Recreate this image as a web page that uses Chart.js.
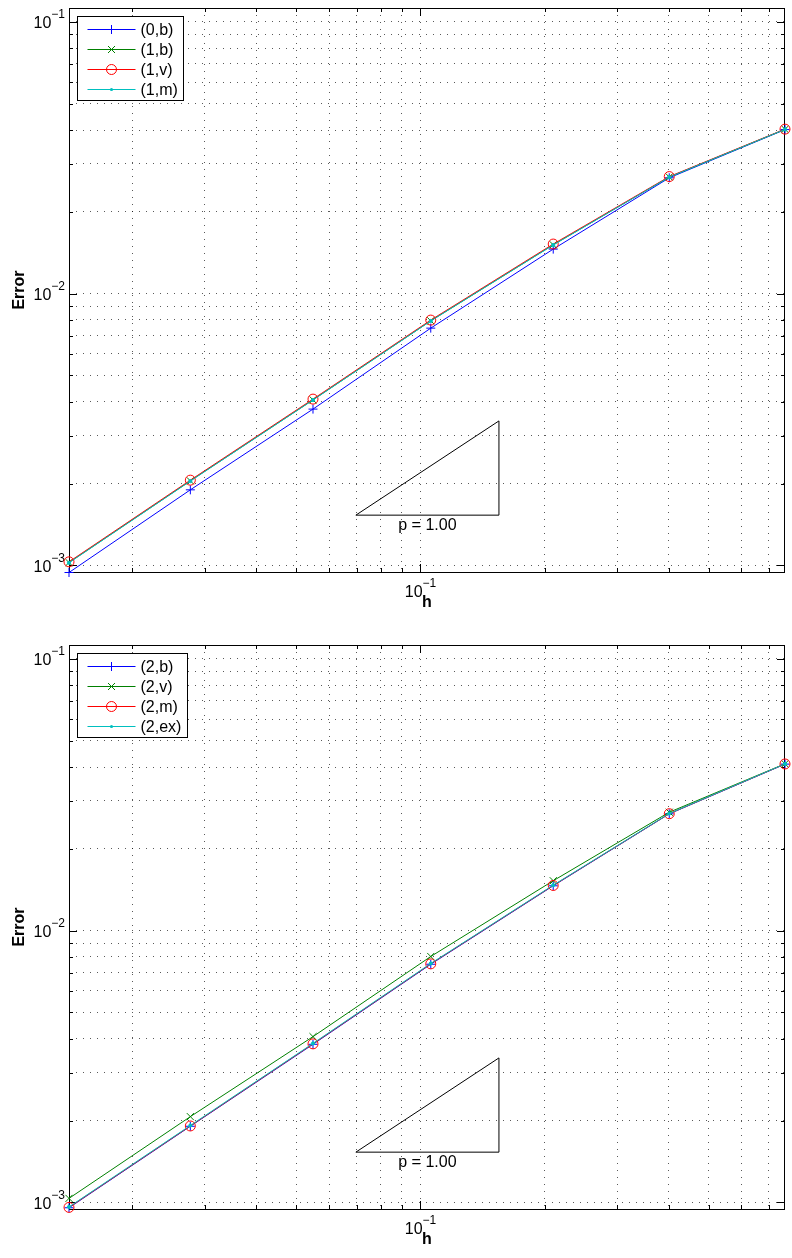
<!DOCTYPE html>
<html>
<head>
<meta charset="utf-8">
<script src="https://cdn.jsdelivr.net/npm/chart.js@4.4.1/dist/chart.umd.min.js"></script>
<style>
  html, body { margin: 0; padding: 0; background: #fff; overflow: hidden; }
  canvas { position: absolute; left: 0; }
  #errTop { top: 0; }
  #errBottom { top: 637px; }
</style>
</head>
<body>
<canvas id="errTop" width="792" height="637"></canvas>
<canvas id="errBottom" width="792" height="621"></canvas>
<script>
// mesh sizes (shared by both panels)
const hValues = [0.01404, 0.02765, 0.05486, 0.1059, 0.2099, 0.4013, 0.766];

// top panel
const topLabels = ['(0,b)', '(1,b)', '(1,v)', '(1,m)'];
const err0b = [0.000941, 0.001896, 0.003758, 0.007464, 0.01458, 0.02668, 0.04015];
const err1b = [0.001024, 0.002046, 0.004064, 0.007941, 0.01512, 0.02686, 0.04024];
const err1v = [0.001030, 0.002058, 0.004090, 0.007990, 0.01522, 0.02696, 0.04030];
const err1m = [0.001022, 0.002042, 0.004058, 0.007930, 0.01510, 0.02684, 0.04022];

// bottom panel
const bottomLabels = ['(2,b)', '(2,v)', '(2,m)', '(2,ex)'];
const err2b  = [0.000955, 0.001905, 0.003815, 0.007520, 0.01462, 0.02690, 0.04100];
const err2v  = [0.001034, 0.002067, 0.004072, 0.008030, 0.01526, 0.02727, 0.04110];
const err2m  = [0.000958, 0.001910, 0.003830, 0.007545, 0.01466, 0.02693, 0.04105];
const err2ex = [0.000962, 0.001918, 0.003845, 0.007570, 0.01470, 0.02697, 0.04108];

// slope triangle
const triX = [0.0697, 0.155, 0.155, 0.0697];
const triY = [0.00153, 0.00153, 0.00340, 0.00153];
const triText = 'p = 1.00';

const yMin = 0.000945, yMax = 0.1125;

const FONT_FAMILY = '"Liberation Sans", Arial, Helvetica, sans-serif';
const FONT = '16px ' + FONT_FAMILY;
const EXP_FONT = '12px ' + FONT_FAMILY;
const BLUE = '#0000ff', GREEN = '#008000', RED = '#ff0000', CYAN = '#00bfbf';

Chart.defaults.color = '#000';
Chart.defaults.font.family = FONT_FAMILY;
Chart.defaults.font.size = 16;

function isDecade(v) {
  const l = Math.log10(v);
  return Math.abs(l - Math.round(l)) < 1e-9;
}

function logTicks(min, max) {
  const out = [];
  for (let e = Math.floor(Math.log10(min)); e <= Math.ceil(Math.log10(max)); e++) {
    for (let k = 1; k < 10; k++) {
      const v = parseFloat((k * Math.pow(10, e)).toPrecision(6));
      if (v >= min * 0.9999 && v <= max * 1.0001) out.push({value: v});
    }
  }
  return out;
}

// "10" with a raised exponent
function drawPower(ctx, v, x, baseline, align) {
  const e = String(Math.round(Math.log10(v))).replace('-', '\u2212');
  ctx.font = FONT;
  const wMain = ctx.measureText('10').width;
  ctx.font = EXP_FONT;
  const wExp = ctx.measureText(e).width;
  const total = wMain + wExp;
  const left = align === 'right' ? x - total : x - total / 2;
  ctx.textAlign = 'left';
  ctx.textBaseline = 'alphabetic';
  ctx.font = FONT;
  ctx.fillText('10', left, baseline);
  ctx.font = EXP_FONT;
  ctx.fillText(e, left + wMain, baseline - 10);
}

function drawMarker(ctx, marker, x, y, color) {
  ctx.strokeStyle = color;
  ctx.fillStyle = color;
  ctx.lineWidth = 1;
  ctx.beginPath();
  if (marker === 'cross') {
    ctx.moveTo(x - 4.5, y); ctx.lineTo(x + 4.5, y);
    ctx.moveTo(x, y - 4.5); ctx.lineTo(x, y + 4.5);
    ctx.stroke();
  } else if (marker === 'x') {
    ctx.moveTo(x - 3.5, y - 3.5); ctx.lineTo(x + 3.5, y + 3.5);
    ctx.moveTo(x - 3.5, y + 3.5); ctx.lineTo(x + 3.5, y - 3.5);
    ctx.stroke();
  } else if (marker === 'o') {
    ctx.arc(x, y, 5, 0, Math.PI * 2);
    ctx.stroke();
  } else {
    ctx.arc(x, y, 1.6, 0, Math.PI * 2);
    ctx.fill();
  }
}

function series(label, vals, color, marker, order) {
  const pt = {
    cross: ['cross', 4.5, color],
    x: ['crossRot', 5, color],
    o: ['circle', 5, 'rgba(0,0,0,0)'],
    dot: ['circle', 1.6, color]
  }[marker];
  return {
    label: label,
    data: hValues.map((h, i) => ({x: h, y: vals[i]})),
    borderColor: color,
    backgroundColor: color,
    borderWidth: 1,
    pointStyle: pt[0],
    pointRadius: pt[1],
    pointBackgroundColor: pt[2],
    pointBorderColor: color,
    pointBorderWidth: 1,
    marker: marker,
    legendColor: color,
    order: order,
    clip: false
  };
}

const framePlugin = {
  id: 'matlabFrame',
  beforeDatasetsDraw(chart) {
    const {ctx, chartArea: a, scales: {x, y}} = chart;
    ctx.save();
    ctx.setLineDash([]);
    ctx.strokeStyle = '#000';
    ctx.lineWidth = 1;
    ctx.beginPath();
    x.ticks.forEach(t => {
      const px = Math.round(x.getPixelForValue(t.value)) + 0.5;
      const len = isDecade(t.value) ? 8 : 4;
      ctx.moveTo(px, a.bottom); ctx.lineTo(px, a.bottom - len);
      ctx.moveTo(px, a.top); ctx.lineTo(px, a.top + len);
    });
    y.ticks.forEach(t => {
      const py = Math.round(y.getPixelForValue(t.value)) + 0.5;
      const len = isDecade(t.value) ? 8 : 4;
      ctx.moveTo(a.left, py); ctx.lineTo(a.left + len, py);
      ctx.moveTo(a.right, py); ctx.lineTo(a.right - len, py);
    });
    ctx.stroke();
    ctx.strokeRect(Math.round(a.left) + 0.5, Math.round(a.top) + 0.5,
      Math.round(a.right - a.left) - 1, Math.round(a.bottom - a.top));

    // decade tick labels
    ctx.fillStyle = '#000';
    x.ticks.filter(t => isDecade(t.value)).forEach(t => {
      drawPower(ctx, t.value, x.getPixelForValue(t.value), a.bottom + 25, 'center');
    });
    y.ticks.filter(t => isDecade(t.value)).forEach(t => {
      drawPower(ctx, t.value, a.left - 4, y.getPixelForValue(t.value) + 6.5, 'right');
    });
    ctx.restore();
  },
  afterDatasetsDraw(chart) {
    const {ctx, chartArea: a, scales: {x, y}} = chart;
    ctx.save();
    ctx.setLineDash([]);

    // slope label
    ctx.font = FONT;
    ctx.fillStyle = '#000';
    ctx.textAlign = 'center';
    ctx.textBaseline = 'middle';
    const cx = x.getPixelForValue(Math.sqrt(triX[0] * triX[1]));
    const cy = y.getPixelForValue(triY[0]) + 10;
    ctx.fillText(triText, cx, cy);

    // boxed legend, top left inside the axes
    const sets = chart.data.datasets.filter(d => d.marker);
    const textW = Math.max(...sets.map(d => ctx.measureText(d.label).width));
    const left = Math.round(a.left + 8) + 0.5, top = Math.round(a.top + 8) + 0.5;
    const rowH = 19.8;
    const w = Math.round(63 + textW + 6);
    const h = Math.round(12.6 + rowH * (sets.length - 1) + 11.6);
    ctx.fillStyle = '#ffffff';
    ctx.fillRect(left, top, w, h);
    ctx.strokeStyle = '#000000';
    ctx.lineWidth = 1;
    ctx.strokeRect(left, top, w, h);
    sets.forEach((d, i) => {
      const ly = Math.round(top + 12.6 + i * rowH) + 0.5;
      ctx.strokeStyle = d.legendColor;
      ctx.lineWidth = 1;
      ctx.beginPath();
      ctx.moveTo(left + 10, ly);
      ctx.lineTo(left + 58, ly);
      ctx.stroke();
      drawMarker(ctx, d.marker, left + 34, ly, d.legendColor);
      ctx.font = FONT;
      ctx.fillStyle = '#000000';
      ctx.textAlign = 'left';
      ctx.textBaseline = 'middle';
      ctx.fillText(d.label, left + 63, ly + 1);
    });
    ctx.restore();
  }
};

function makeChart(id, datasets, axisHeight, hTitlePad) {
  datasets.push({
    label: 'slope',
    data: triX.map((v, i) => ({x: v, y: triY[i]})),
    borderColor: '#000',
    borderWidth: 1,
    pointRadius: 0,
    order: 10,
    clip: false
  });
  return new Chart(document.getElementById(id), {
    type: 'line',
    data: {datasets: datasets},
    plugins: [framePlugin],
    options: {
      responsive: false,
      animation: false,
      events: [],
      layout: {padding: {left: 0, right: 7, top: 8, bottom: 0}},
      plugins: {legend: {display: false}, tooltip: {enabled: false}},
      scales: {
        x: {
          type: 'logarithmic',
          min: hValues[0],
          max: hValues[hValues.length - 1],
          afterBuildTicks: s => { s.ticks = logTicks(s.min, s.max); },
          afterFit: s => {
            s.height = axisHeight;
            s.paddingLeft = s.paddingRight = s.paddingTop = s.paddingBottom = 0;
          },
          ticks: {display: false, autoSkip: false},
          grid: {color: 'rgba(0,0,0,0.65)', lineWidth: 1, drawTicks: false, borderDash: [1, 6]},
          border: {display: false, dash: [1, 6]},
          title: {display: true, text: 'h', font: {weight: 'bold', size: 16},
                  padding: {top: hTitlePad, bottom: hTitlePad}}
        },
        y: {
          type: 'logarithmic',
          min: yMin,
          max: yMax,
          afterBuildTicks: s => { s.ticks = logTicks(s.min, s.max); },
          afterFit: s => {
            s.width = 69;
            s.paddingLeft = s.paddingRight = s.paddingTop = s.paddingBottom = 0;
          },
          ticks: {display: false, autoSkip: false},
          grid: {color: 'rgba(0,0,0,0.65)', lineWidth: 1, drawTicks: false, borderDash: [1, 6]},
          border: {display: false, dash: [1, 6]},
          title: {display: true, text: 'Error', font: {weight: 'bold', size: 16},
                  padding: {top: 10, bottom: 10}}
        }
      }
    }
  });
}

makeChart('errTop', [
  series(topLabels[0], err0b, BLUE, 'cross', 4),
  series(topLabels[1], err1b, GREEN, 'x', 3),
  series(topLabels[2], err1v, RED, 'o', 2),
  series(topLabels[3], err1m, CYAN, 'dot', 1)
], 65, 25);

makeChart('errBottom', [
  series(bottomLabels[0], err2b, BLUE, 'cross', 4),
  series(bottomLabels[1], err2v, GREEN, 'x', 3),
  series(bottomLabels[2], err2m, RED, 'o', 2),
  series(bottomLabels[3], err2ex, CYAN, 'dot', 1)
], 49, 9);
</script>
</body>
</html>
